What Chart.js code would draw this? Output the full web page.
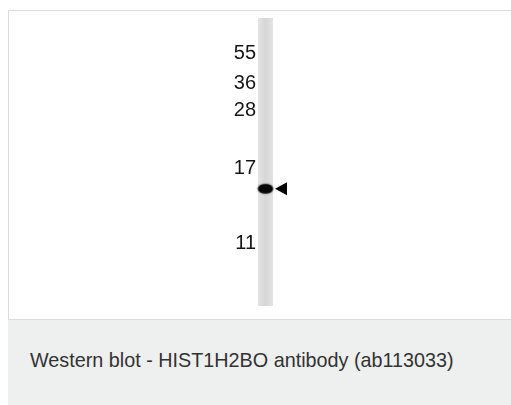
<!DOCTYPE html>
<html>
<head>
<meta charset="utf-8">
<script src="https://cdn.jsdelivr.net/npm/chart.js@4"></script>
<style>
  html, body { margin: 0; padding: 0; width: 511px; height: 405px; overflow: hidden; background: #fff; }
  #box { position: absolute; left: 8px; top: 10px; width: 520px; height: 308px; border: 1px solid #dcdcdc; background: #fff; }
  #chartWrap { position: absolute; left: 0; top: 0; width: 511px; height: 320px; }
  #caption { position: absolute; left: 8px; top: 320px; width: 520px; height: 85px; background: #eeefef; }
  #caption span { position: absolute; left: 22px; top: 30px; font: 19.8px "Liberation Sans", Arial, sans-serif; line-height: 20px; color: #333; white-space: nowrap; }
</style>
</head>
<body>
<div id="box"></div>
<div id="chartWrap"><canvas id="blot" width="511" height="320"></canvas></div>
<div id="caption"><span>Western blot - HIST1H2BO antibody (ab113033)</span></div>
<script>
// marker ladder (kDa) and where each one ran, in % of the lane length
var markerLabels = ['55', '36', '28', '17', '11'];
var markerPos = [12.3, 22.8, 32.0, 52.4, 78.2];
var lanes = ['HIST1H2BO'];
var laneSpan = [[0, 100]];
var bandPos = [59.3];

// blurred dark band used as the point image
var band = document.createElement('canvas');
band.width = 24; band.height = 18;
var bctx = band.getContext('2d');
bctx.shadowColor = 'rgba(0,0,0,0.6)';
bctx.shadowBlur = 2;
bctx.fillStyle = '#050505';
bctx.beginPath();
bctx.ellipse(12, 9, 7.6, 4.8, 0, 0, Math.PI * 2);
bctx.fill();

var arrowPlugin = {
    id: 'arrow',
    afterDatasetsDraw: function(chart) {
        var ctx = chart.ctx;
        var y = chart.scales.y.getPixelForValue(bandPos[0]);
        var x = chart.chartArea.right + 2;
        ctx.save();
        ctx.fillStyle = '#000';
        ctx.beginPath();
        ctx.moveTo(x, y);
        ctx.lineTo(x + 12, y - 6.5);
        ctx.lineTo(x + 12, y + 6.5);
        ctx.closePath();
        ctx.fill();
        ctx.restore();
    }
};

var ctx = document.getElementById('blot').getContext('2d');
var myChart = new Chart(ctx, {
    type: 'bar',
    data: {
        labels: lanes,
        datasets: [{
                label: 'lane',
                data: laneSpan,
                order: 2,
                grouped: false,
                barPercentage: 1,
                categoryPercentage: 1,
                backgroundColor: function(c) {
                    var a = c.chart.chartArea;
                    if (!a) return '#dedede';
                    var g = c.chart.ctx.createLinearGradient(a.left, 0, a.right, 0);
                    g.addColorStop(0, '#e4e4e4');
                    g.addColorStop(0.5, '#d6d6d6');
                    g.addColorStop(1, '#e2e2e2');
                    return g;
                },
                borderWidth: 0
            }, {
                type: 'line',
                label: 'band',
                data: bandPos,
                order: 1,
                showLine: false,
                pointStyle: band,
                pointRadius: 8
            }]
    },
    options: {
        responsive: false,
        animation: false,
        layout: { padding: { top: 18, bottom: 11, left: 0, right: 238 } },
        scales: {
            x: { display: false },
            y: {
                reverse: true,
                min: 0,
                max: 100,
                afterFit: function(scale) { scale.width = 258; },
                afterBuildTicks: function(scale) {
                    scale.ticks = markerPos.map(function(v) { return { value: v }; });
                },
                ticks: {
                    autoSkip: false,
                    padding: 2,
                    color: '#151515',
                    font: { family: 'Liberation Sans', size: 20 },
                    callback: function(v) {
                        var i = markerPos.indexOf(v);
                        return i >= 0 ? markerLabels[i] : '';
                    }
                },
                grid: { display: false, drawTicks: false },
                border: { display: false }
            }
        },
        plugins: {
            legend: { display: 0 },
            tooltip: { enabled: false }
        }
    },
    plugins: [arrowPlugin]
});
</script>
</body>
</html>
